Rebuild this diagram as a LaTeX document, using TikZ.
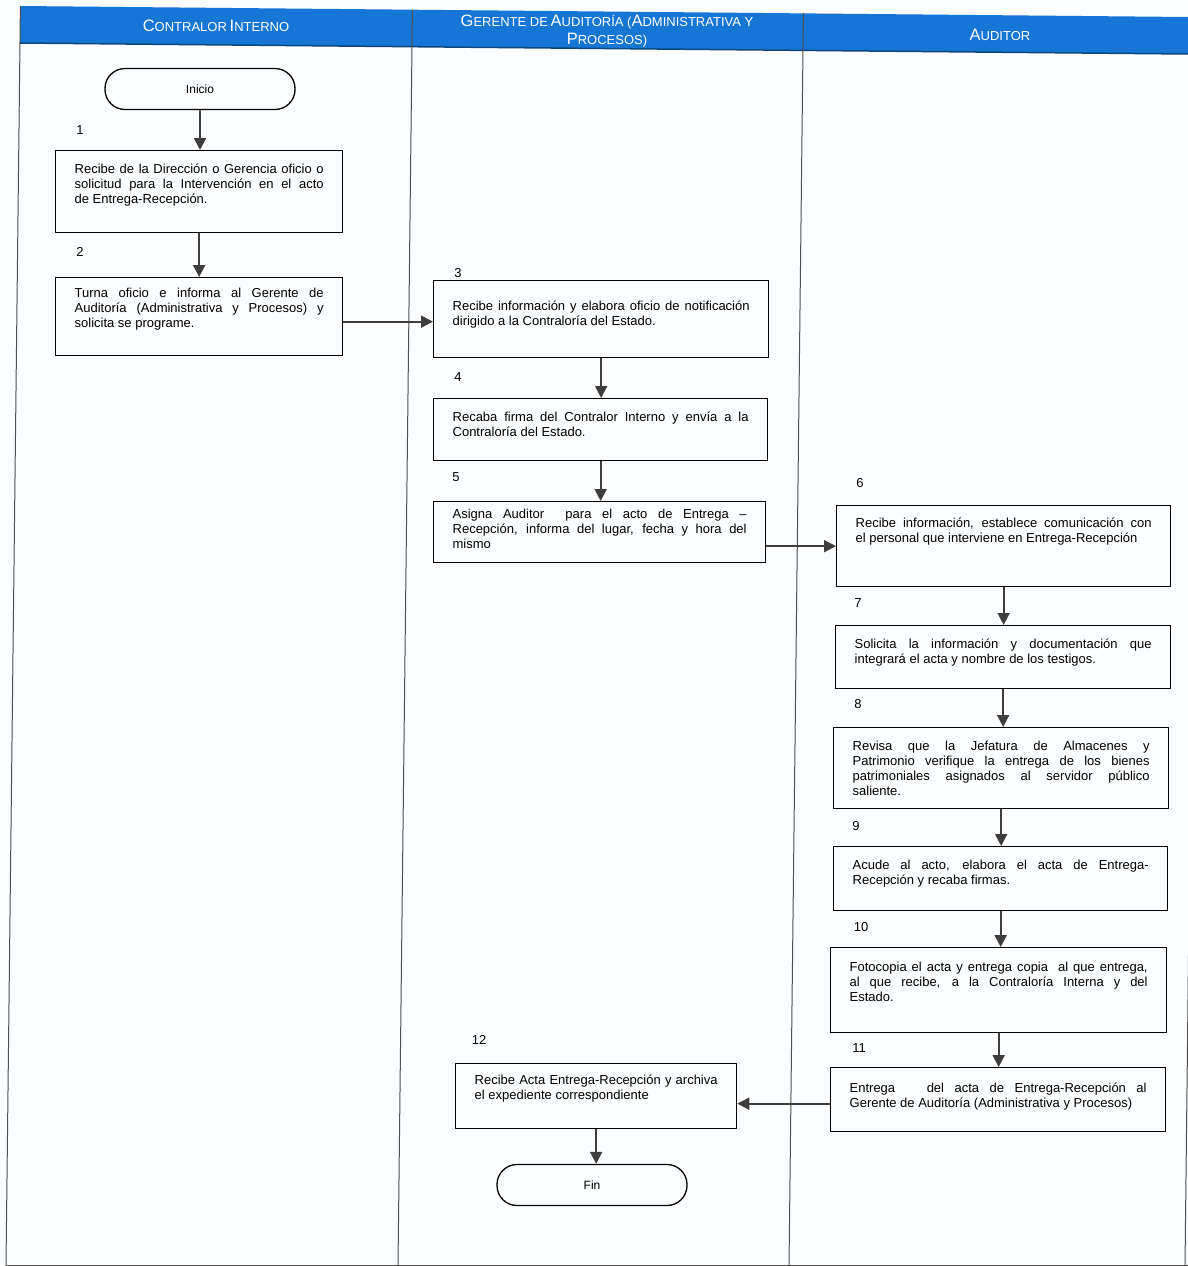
\documentclass[tikz,border=0pt]{standalone}
\usepackage{fontspec}
\setmainfont{Liberation Sans}
\usetikzlibrary{arrows.meta}
\definecolor{hdrblue}{RGB}{22,118,214}
\definecolor{arrowgray}{RGB}{62,62,62}
\definecolor{lanegray}{RGB}{80,80,80}
\definecolor{paper}{RGB}{251,253,254}
\newcommand\bigc[1]{{\fontsize{16.5}{19}\selectfont #1}}
\newcommand\smc[1]{{\fontsize{13}{19}\selectfont #1}}
\newcommand\boxfont{\fontsize{13}{15}\selectfont\hyphenpenalty=10000\exhyphenpenalty=10000\tolerance=10000\emergencystretch=20pt}
% name, x, y, width, height, top pad, text
\newcommand\stepnode[7]{%
  \node[stepbox, minimum width=#4pt, minimum height=#5pt] (#1) at (#2,#3)
  {\parbox[t][\dimexpr#5pt-2pt\relax][t]{\dimexpr#4pt-38pt\relax}{\vspace*{#6pt}\boxfont #7}};}
\begin{document}
\begin{tikzpicture}[x=1pt,y=-1pt,
  stepbox/.style={draw=black, line width=1.3pt, inner sep=0pt, anchor=north west},
  term/.style={draw=black, line width=1.3pt, rounded corners=20pt, minimum width=190pt,
    minimum height=41pt, inner sep=0pt, font=\fontsize{12}{14}\selectfont},
  numlbl/.style={font=\fontsize{13}{15}\selectfont, inner sep=0pt},
  hdr/.style={text=white, align=center, inner sep=0pt},
  flow/.style={draw=arrowgray, line width=2pt, -{Triangle[length=12pt,width=12pt]}},
  lane/.style={draw=lanegray, line width=1pt}]
\useasboundingbox (0,0) rectangle (1188,1266);
\clip (0,0) rectangle (1188,1266);
\fill[paper] (0,0) rectangle (1188,1266);
% header band
\fill[hdrblue] (20,6) -- (1188,17) -- (1188,54) -- (20,43) -- cycle;
\draw[draw=hdrblue!60!black, line width=1.5pt] (20,43) -- (1188,54);
% lanes
\draw[lane] (20.4,6) -- (6,1266);
\draw[lane] (412.4,10) -- (398,1266);
\draw[lane] (803.4,13) -- (789,1266);
\draw[lane] (1199,17) -- (1185,1266);
\draw[lane] (6,1265) -- (1188,1265);
% header texts
\node[hdr] (h1) at (216,26) {\bigc{C}\smc{ONTRALOR} \bigc{I}\smc{NTERNO}};
\node[hdr] (h2) at (607,31) {\bigc{G}\smc{ERENTE DE} \bigc{A}\smc{UDITORÍA (}\bigc{A}\smc{DMINISTRATIVA Y}\\[3pt]\bigc{P}\smc{ROCESOS)}};
\node[hdr] (h3) at (1000,35) {\bigc{A}\smc{UDITOR}};
% terminals
\node[term] (start) at (200,89) {Inicio};
\node[term] (fin) at (592,1185) {Fin};
% number labels
\node[numlbl] (n1) at (80,130) {1};
\node[numlbl] (n2) at (80,252) {2};
\node[numlbl] (n3) at (458,273) {3};
\node[numlbl] (n4) at (458,377) {4};
\node[numlbl] (n5) at (456,477) {5};
\node[numlbl] (n6) at (860,483) {6};
\node[numlbl] (n7) at (858,603) {7};
\node[numlbl] (n8) at (858,704) {8};
\node[numlbl] (n9) at (856,826) {9};
\node[numlbl] (n10) at (861,927) {10};
\node[numlbl] (n11) at (859,1048) {11};
\node[numlbl] (n12) at (479,1040) {12};
% step boxes
\stepnode{b1}{55}{150}{287}{82}{12}{Recibe de la Dirección o Gerencia oficio o\linebreak solicitud para la Intervención en el acto\linebreak de Entrega-Recepción.}
\stepnode{b2}{55}{277}{287}{78}{9}{Turna oficio e informa al Gerente de\linebreak Auditoría (Administrativa y Procesos) y\linebreak solicita se programe.}
\stepnode{b3}{433}{280}{335}{77}{19}{Recibe información y elabora oficio de notificación\linebreak dirigido a la Contraloría del Estado.}
\stepnode{b4}{433}{398}{334}{62}{12}{Recaba firma del Contralor Interno y envía a la\linebreak Contraloría del Estado.}
\stepnode{b5}{433}{501}{332}{61}{6}{Asigna Auditor\ \ para el acto de Entrega –\linebreak Recepción, informa del lugar, fecha y hora del\linebreak mismo}
\stepnode{b6}{836}{505}{334}{81}{11}{Recibe información, establece comunicación con\linebreak el personal que interviene en Entrega-Recepción}
\stepnode{b7}{835}{625}{335}{63}{12}{Solicita la información y documentación que\linebreak integrará el acta y nombre de los testigos.}
\stepnode{b8}{833}{727}{335}{81}{12}{Revisa que la Jefatura de Almacenes y\linebreak Patrimonio verifique la entrega de los bienes\linebreak patrimoniales asignados al servidor público\linebreak saliente.}
\stepnode{b9}{833}{846}{334}{64}{12}{Acude al acto, elabora el acta de Entrega-\linebreak Recepción y recaba firmas.}
\stepnode{b10}{830}{947}{336}{85}{13}{Fotocopia el acta y entrega copia\ \ al que entrega,\linebreak al que recibe, a la Contraloría Interna y del\linebreak Estado.}
\stepnode{b11}{830}{1067}{335}{64}{14}{Entrega\ \ \ del acta de Entrega-Recepción al\linebreak Gerente de Auditoría (Administrativa y Procesos)}
\stepnode{b12}{455}{1063}{281}{65}{10}{Recibe Acta Entrega-Recepción y archiva\linebreak el expediente correspondiente}
% connectors
\draw[flow] (start.south) -- (start.south |- b1.north);
\draw[flow] (b1.south) -- (b1.south |- b2.north);
\draw[flow] ([yshift=-5pt]b2.east) -- ([yshift=-5pt]b2.east -| b3.west);
\draw[flow] (b3.south) -- (b3.south |- b4.north);
\draw[flow] (b4.south) -- (b4.south |- b5.north);
\draw[flow] (b5.east |- b6.west) -- (b6.west);
\draw[flow] (b6.south) -- (b6.south |- b7.north);
\draw[flow] (b7.south) -- (b7.south |- b8.north);
\draw[flow] (b8.south) -- (b8.south |- b9.north);
\draw[flow] (b9.south) -- (b9.south |- b10.north);
\draw[flow] (b10.south) -- (b10.south |- b11.north);
\draw[flow] ([yshift=-4pt]b11.west) -- ([yshift=-4pt]b11.west -| b12.east);
\draw[flow] (b12.south) -- (b12.south |- fin.north);
\end{tikzpicture}
\end{document}
